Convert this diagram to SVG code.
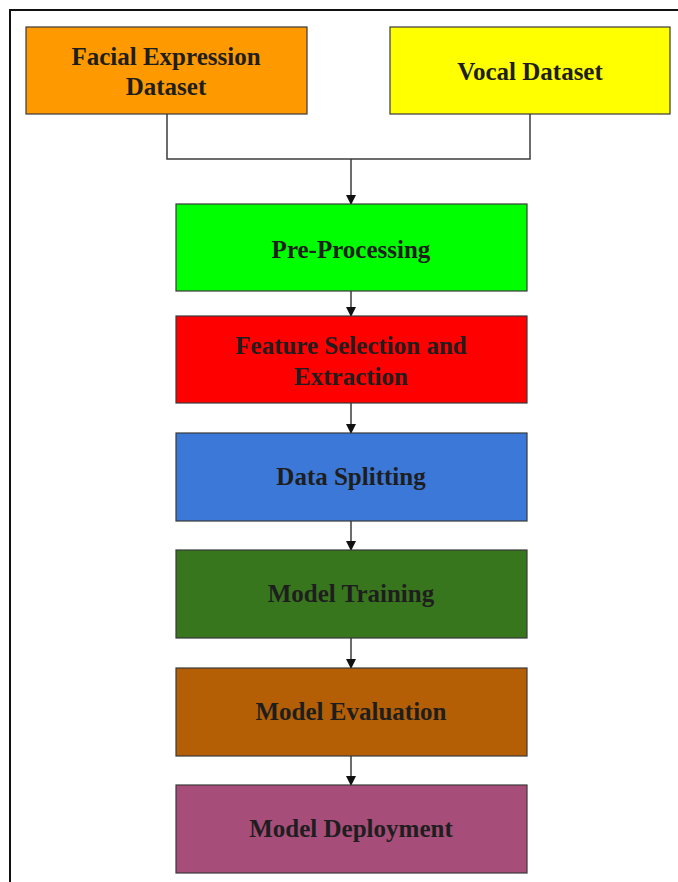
<svg xmlns="http://www.w3.org/2000/svg" width="678" height="882" viewBox="0 0 678 882">
<style>
.box{stroke:#3a3a3a;stroke-width:1.2}
.lbl{font-family:"Liberation Serif","Times New Roman",serif;font-weight:bold;font-size:25px;fill:#1e1e1e;text-anchor:middle}
.con{fill:none;stroke:#3c3c3c;stroke-width:1.5}
</style>
<defs>
<marker id="ah" markerWidth="10" markerHeight="12" refX="9" refY="5" orient="auto" markerUnits="userSpaceOnUse" viewBox="0 0 10 10">
<path d="M0,0 L10,5 L0,10 z" fill="#111"/>
</marker>
</defs>
<rect x="0" y="0" width="678" height="882" fill="#ffffff"/>
<path d="M10,882 L10,10 L678,10" fill="none" stroke="#111" stroke-width="2"/>
<g id="connectors">
<path class="con" d="M167,114 L167,159 L530,159 L530,114"/>
<path class="con" d="M351,159 L351,204" marker-end="url(#ah)"/>
<path class="con" d="M351,291 L351,316" marker-end="url(#ah)"/>
<path class="con" d="M351,403 L351,433" marker-end="url(#ah)"/>
<path class="con" d="M351,521 L351,550" marker-end="url(#ah)"/>
<path class="con" d="M351,638 L351,668" marker-end="url(#ah)"/>
<path class="con" d="M351,756 L351,785" marker-end="url(#ah)"/>
</g>
<g id="facial">
<rect class="box" x="26" y="27" width="281" height="87" fill="#FF9900"/>
<text class="lbl" x="166" y="65">Facial Expression</text>
<text class="lbl" x="166" y="95">Dataset</text>
</g>
<g id="vocal">
<rect class="box" x="390" y="27" width="280" height="87" fill="#FFFF00"/>
<text class="lbl" x="530" y="80">Vocal Dataset</text>
</g>
<g id="preprocessing">
<rect class="box" x="176" y="204" width="351" height="87" fill="#00FF00"/>
<text class="lbl" x="351" y="258">Pre-Processing</text>
</g>
<g id="feature">
<rect class="box" x="176" y="316" width="351" height="87" fill="#FF0000"/>
<text class="lbl" x="351" y="354">Feature Selection and</text>
<text class="lbl" x="351" y="385">Extraction</text>
</g>
<g id="splitting">
<rect class="box" x="176" y="433" width="351" height="88" fill="#3C78D8"/>
<text class="lbl" x="351" y="485">Data Splitting</text>
</g>
<g id="training">
<rect class="box" x="176" y="550" width="351" height="88" fill="#38761D"/>
<text class="lbl" x="351" y="602">Model Training</text>
</g>
<g id="evaluation">
<rect class="box" x="176" y="668" width="351" height="88" fill="#B45F06"/>
<text class="lbl" x="351" y="720">Model Evaluation</text>
</g>
<g id="deployment">
<rect class="box" x="176" y="785" width="351" height="88" fill="#A64D79"/>
<text class="lbl" x="351" y="837">Model Deployment</text>
</g>
</svg>
